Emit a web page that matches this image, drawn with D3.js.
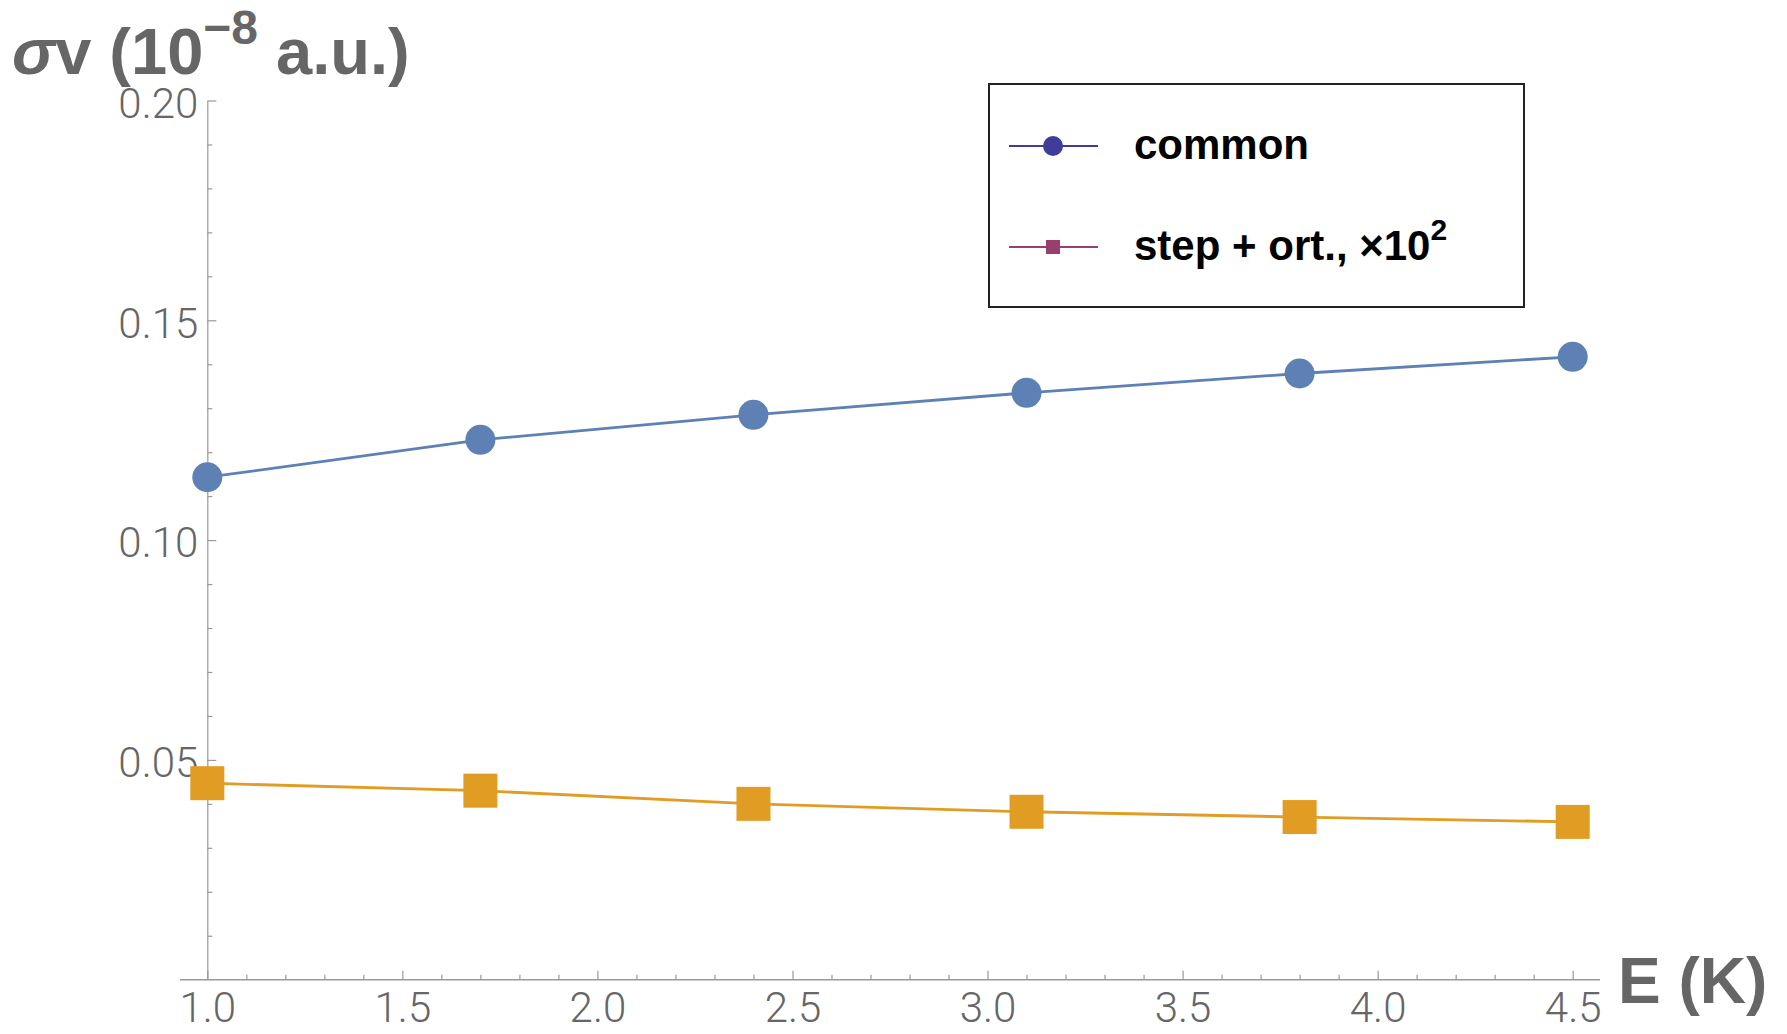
<!DOCTYPE html>
<html>
<head>
<meta charset="utf-8">
<script src="https://d3js.org/d3.v7.min.js"></script>
<style>
  body { margin: 0; background: #fff; }
  svg { display: block; }
</style>
</head>
<body>
<div id="chart"></div>
<script>
// Data
const energies = [1.0, 1.7, 2.4, 3.1, 3.8, 4.5];
const common = [0.1143, 0.1228, 0.1285, 0.1335, 0.1379, 0.1417];
const stepOrt = [0.0447, 0.0430, 0.0400, 0.0382, 0.0370, 0.0359];   // x10^2

const xMajor = [1.0, 1.5, 2.0, 2.5, 3.0, 3.5, 4.0, 4.5];
const yMajor = [0.05, 0.10, 0.15, 0.20];

const width = 1787;
const height = 1034;

const svg = d3.select("#chart").append("svg")
    .attr("width", width)
    .attr("height", height);

// Scales
const x = d3.scaleLinear()
    .domain([0.93, 4.57])
    .range([180, 1600]);

const y = d3.scaleLinear()
    .domain([0, 0.2])
    .range([979.7, 100.5]);

const axisGrey = "#999";
const labelGrey = "#666";

// minor tick values
const xMinor = d3.range(11, 45).filter(d => d % 5 !== 0).map(d => d / 10);
const yMinor = d3.range(1, 20).filter(d => d % 5 !== 0).map(d => d / 100);

// X axis (ticks point up, labels below)
svg.append("line")
    .attr("x1", x(0.93)).attr("x2", x(4.57))
    .attr("y1", y(0)).attr("y2", y(0))
    .attr("stroke", axisGrey)
    .attr("stroke-width", 1.5);

const xAxis = svg.append("g")
    .attr("transform", `translate(0,${y(0)})`)
    .call(d3.axisBottom(x).tickValues(xMajor).tickSize(-9).tickPadding(12).tickFormat(d3.format(".1f")));
xAxis.select(".domain").remove();

svg.append("g")
    .attr("transform", `translate(0,${y(0)})`)
    .call(d3.axisBottom(x).tickValues(xMinor).tickSize(-5).tickFormat(""))
    .select(".domain").remove();

// Y axis (ticks point right, labels left)
const yAxis = svg.append("g")
    .attr("transform", `translate(${x(1)},0)`)
    .call(d3.axisLeft(y).tickValues(yMajor).tickSize(-9).tickSizeOuter(0).tickPadding(9).tickFormat(d3.format(".2f")));

svg.append("g")
    .attr("transform", `translate(${x(1)},0)`)
    .call(d3.axisLeft(y).tickValues(yMinor).tickSize(-5).tickFormat(""))
    .select(".domain").remove();

svg.selectAll(".tick line, .domain")
    .attr("stroke", axisGrey)
    .attr("stroke-width", 1.2);

svg.selectAll(".tick text")
    .attr("fill", labelGrey)
    .style("font-family", "Roboto, 'Liberation Sans', sans-serif")
    .style("font-weight", 300)
    .style("font-size", "42px");

// nudge y tick labels down a bit
yAxis.selectAll(".tick text").attr("dy", "0.4em");

// Axis labels
const yLabel = svg.append("text")
    .attr("x", 12)
    .attr("y", 74)
    .attr("fill", labelGrey)
    .style("font-family", "'Liberation Sans', Arial, sans-serif")
    .style("font-weight", "bold")
    .style("font-size", "65px");
yLabel.append("tspan").style("font-style", "italic").text("σ");
yLabel.append("tspan").text("v (10");
yLabel.append("tspan").attr("dy", -30).style("font-size", "48px").text("−8");
yLabel.append("tspan").attr("dy", 30).text(" a.u.)");

svg.append("text")
    .attr("x", 1618)
    .attr("y", 1003)
    .attr("fill", labelGrey)
    .style("font-family", "'Liberation Sans', Arial, sans-serif")
    .style("font-weight", "bold")
    .style("font-size", "64px")
    .text("E (K)");

// Lines and markers
const blue = "#5E81B5";
const orange = "#E19C24";

const lineOf = d3.line()
    .x((d, i) => x(energies[i]))
    .y(d => y(d));

svg.append("path")
    .datum(common)
    .attr("d", lineOf)
    .attr("fill", "none")
    .attr("stroke", blue)
    .attr("stroke-width", 2.8);

svg.append("path")
    .datum(stepOrt)
    .attr("d", lineOf)
    .attr("fill", "none")
    .attr("stroke", orange)
    .attr("stroke-width", 2.8);

svg.selectAll(".dot")
    .data(common)
    .enter()
    .append("circle")
    .attr("cx", (d, i) => x(energies[i]))
    .attr("cy", d => y(d))
    .attr("r", 15)
    .attr("fill", blue);

const sq = 34;
svg.selectAll(".sq")
    .data(stepOrt)
    .enter()
    .append("rect")
    .attr("x", (d, i) => x(energies[i]) - sq / 2)
    .attr("y", d => y(d) - sq / 2)
    .attr("width", sq)
    .attr("height", sq)
    .attr("fill", orange);

// Legend
const legend = svg.append("g");

legend.append("rect")
    .attr("x", 989)
    .attr("y", 84)
    .attr("width", 535)
    .attr("height", 223)
    .attr("fill", "white")
    .attr("stroke", "#222")
    .attr("stroke-width", 2);

const legendItems = [
  { label: "common", color: "#3F3D99", shape: "circle", cy: 146 },
  { label: "step + ort., ×10", color: "#993F6F", shape: "square", cy: 247 }
];

legendItems.forEach(item => {
    legend.append("line")
        .attr("x1", 1009).attr("x2", 1098)
        .attr("y1", item.cy).attr("y2", item.cy)
        .attr("stroke", item.color)
        .attr("stroke-width", 2);

    if (item.shape === "circle") {
        legend.append("circle")
            .attr("cx", 1053).attr("cy", item.cy).attr("r", 10)
            .attr("fill", item.color);
    } else {
        legend.append("rect")
            .attr("x", 1046).attr("y", item.cy - 7)
            .attr("width", 14).attr("height", 14)
            .attr("fill", item.color);
    }

    const t = legend.append("text")
        .attr("x", 1134)
        .attr("y", item.cy + 13)
        .attr("fill", "black")
        .style("font-family", "'Liberation Sans', Arial, sans-serif")
        .style("font-weight", "bold")
        .style("font-size", "42px")
        .text(item.label);
    if (item.shape === "square") {
        t.append("tspan").attr("dy", -20).style("font-size", "30px").text("2");
    }
});
</script>
</body>
</html>
